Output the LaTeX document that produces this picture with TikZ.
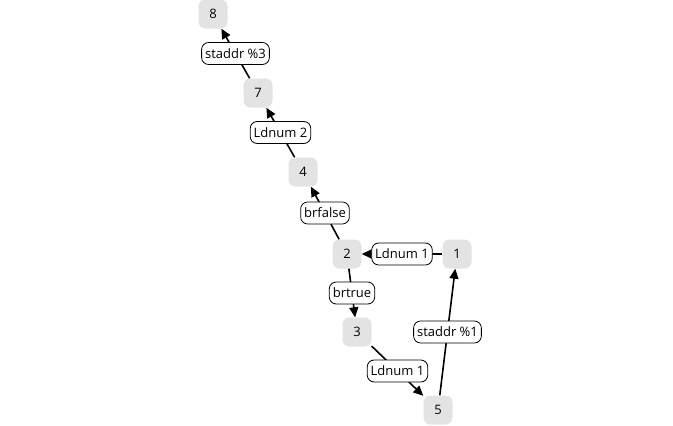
\documentclass[tikz,border=0pt]{standalone}
\usepackage{fontspec}
\setmainfont{Open Sans}
\usetikzlibrary{arrows.meta}

\begin{document}
\begin{tikzpicture}[x=1pt, y=-1pt,
	block/.style={shape=rectangle, rounded corners=7pt, fill=black!11, minimum size=29pt, inner sep=0pt},
	instr/.style={shape=rectangle, rounded corners=7pt, draw=black, line width=0.8pt, fill=white, inner xsep=3.5pt, inner ysep=2pt, minimum height=22pt},
	flow/.style={-{Triangle[length=10pt, width=9pt]}, line width=1.6pt}]
	\useasboundingbox (0, 0) rectangle (673, 426);
	\fontsize{13}{15}\selectfont
	
	\node[block] (b8) at (213, 14)  {8};
	\node[block] (b7) at (258, 93)  {7};
	\node[block] (b4) at (303, 172) {4};
	\node[block] (b2) at (347, 254) {2};
	\node[block] (b1) at (457, 254) {1};
	\node[block] (b3) at (357, 332) {3};
	\node[block] (b5) at (438, 410) {5};
	
	\path[flow] (b7) edge node[instr]{staddr \%3} (b8);
	\path[flow] (b4) edge node[instr]{Ldnum 2} (b7);
	\path[flow] (b2) edge node[instr]{brfalse} (b4);
	\path[flow] (b1) edge node[instr]{Ldnum 1} (b2);
	\path[flow] (b2) edge node[instr]{brtrue} (b3);
	\path[flow] (b3) edge node[instr]{Ldnum 1} (b5);
	\path[flow] (b5) edge node[instr]{staddr \%1} (b1);
	
\end{tikzpicture}
\end{document}
